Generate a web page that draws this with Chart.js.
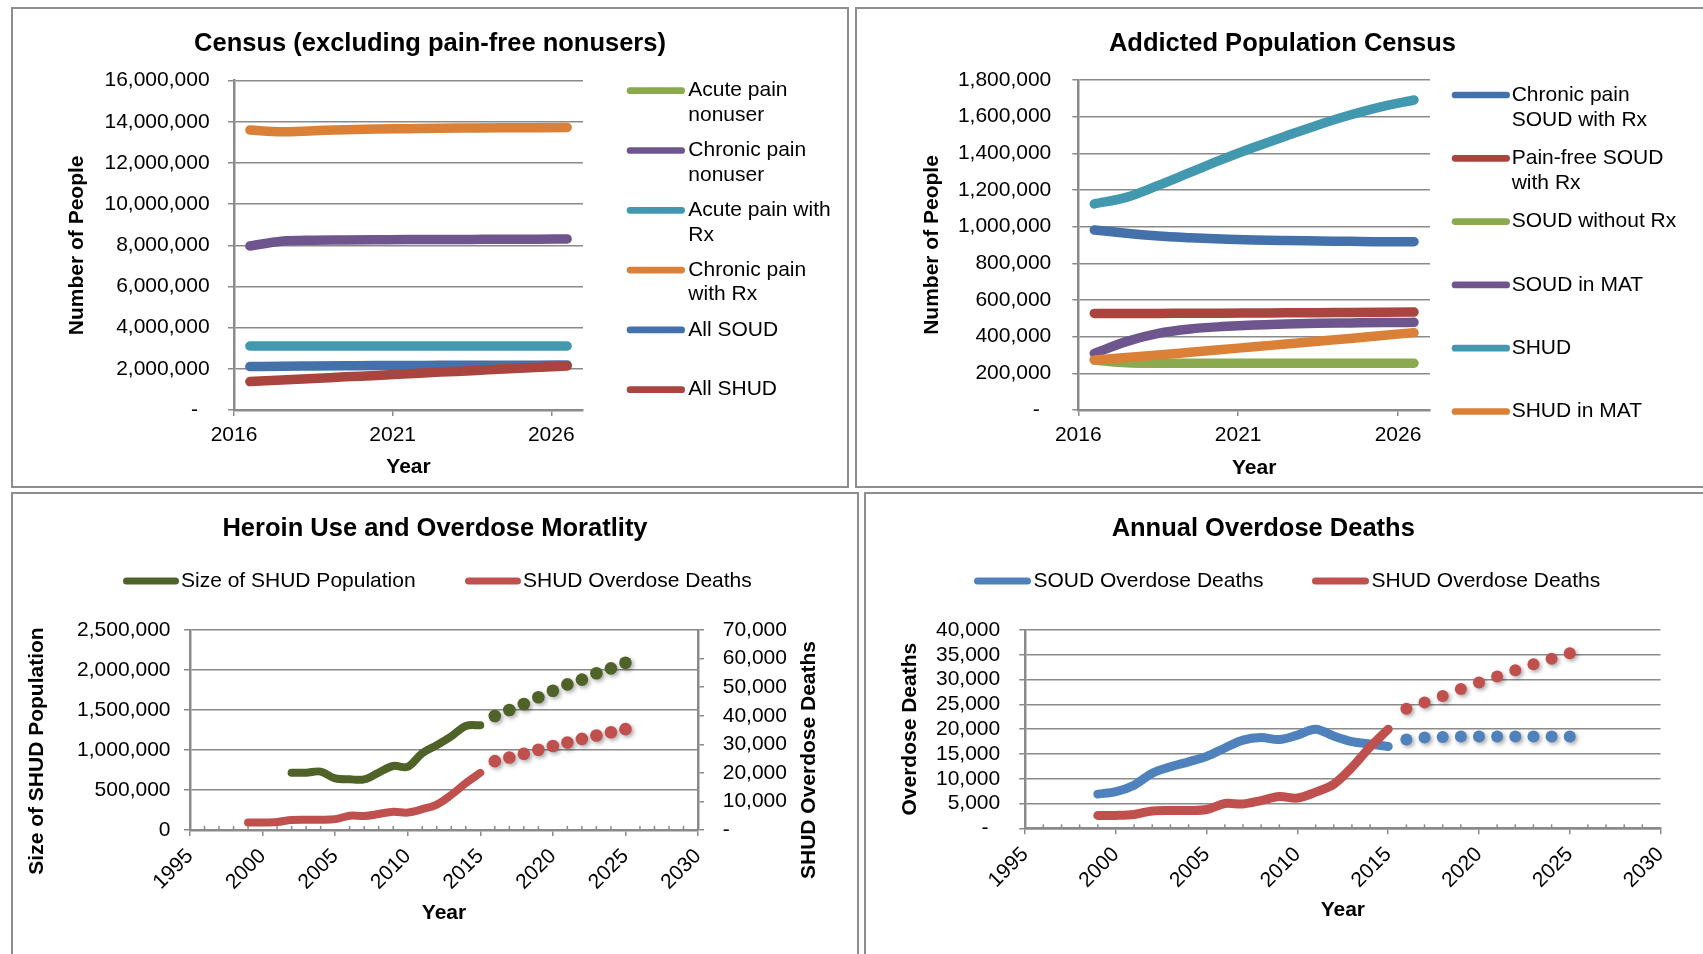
<!DOCTYPE html>
<html>
<head>
<meta charset="utf-8">
<title>Opioid model census and overdose deaths</title>
<script src="https://cdn.jsdelivr.net/npm/chart.js@4.4.1/dist/chart.umd.min.js"></script>
<style>
  html, body { margin: 0; padding: 0; background: #fff; }
  body { width: 1703px; height: 954px; overflow: hidden; position: relative; }
  .panel { position: absolute; border: 2px solid #8e8e8e; background: #fff; overflow: hidden; }
  .panel canvas { display: block; }
</style>
</head>
<body>
<div class="panel" style="left:11px; top:7px; width:834px; height:477px;"><canvas id="censusChart" width="834" height="477"></canvas></div>
<div class="panel" style="left:855px; top:7px; width:851px; height:477px;"><canvas id="addictedChart" width="851" height="477"></canvas></div>
<div class="panel" style="left:11px; top:492px; width:844px; height:466px;"><canvas id="heroinChart" width="844" height="466"></canvas></div>
<div class="panel" style="left:864px; top:492px; width:842px; height:466px;"><canvas id="deathsChart" width="842" height="466"></canvas></div>

<script>
// ---- Census (excluding pain-free nonusers) ----
const censusYears = [2016, 2017, 2018, 2019, 2020, 2021, 2022, 2023, 2024, 2025, 2026];
const censusTicks = [2016, 2021, 2026];
const censusNames = ['Acute pain\nnonuser', 'Chronic pain\nnonuser', 'Acute pain with\nRx', 'Chronic pain\nwith Rx', 'All SOUD', 'All SHUD'];
const acutePainNonuser = []; // above the 16,000,000 top of the axis, nothing of it shows
const chronicPainNonuser = [7970000, 8200000, 8250000, 8260000, 8270000, 8280000, 8280000, 8290000, 8300000, 8300000, 8310000];
const acutePainRx = [3110000, 3110000, 3110000, 3110000, 3110000, 3110000, 3110000, 3110000, 3110000, 3110000, 3110000];
const chronicPainRx = [13600000, 13520000, 13570000, 13620000, 13650000, 13670000, 13690000, 13700000, 13710000, 13720000, 13730000];
const allSoud = [2110000, 2130000, 2140000, 2150000, 2160000, 2160000, 2170000, 2170000, 2180000, 2180000, 2190000];
const allShud = [1380000, 1460000, 1530000, 1610000, 1680000, 1760000, 1840000, 1910000, 1990000, 2060000, 2140000];

// ---- Addicted Population Census ----
const addictedNames = ['Chronic pain\nSOUD with Rx', 'Pain-free SOUD\nwith Rx', 'SOUD without Rx', 'SOUD in MAT', 'SHUD', 'SHUD in MAT'];
const chronicSoudRx = [982000, 964000, 949000, 940000, 933000, 927000, 924000, 922000, 920000, 918000, 918000];
const painFreeSoudRx = [527000, 527000, 527000, 528000, 528000, 529000, 530000, 531000, 532000, 533000, 534000];
const soudNoRx = [273000, 258000, 255000, 255000, 255000, 255000, 255000, 255000, 255000, 255000, 255000];
const soudMat = [309000, 373000, 418000, 442000, 455000, 464000, 469000, 473000, 475000, 477000, 478000];
const shudPop = [1124000, 1160000, 1225000, 1296000, 1367000, 1433000, 1495000, 1555000, 1609000, 1655000, 1691000];
const shudMat = [273000, 286000, 300000, 315000, 330000, 345000, 360000, 375000, 390000, 406000, 422000];

// ---- Heroin use / overdose deaths (history as lines, projection as dots) ----
const longTicks = [1995, 2000, 2005, 2010, 2015, 2020, 2025, 2030];
const histYears = [1999, 2000, 2001, 2002, 2003, 2004, 2005, 2006, 2007, 2008, 2009, 2010, 2011, 2012, 2013, 2014, 2015];
const shudPopYears = [2002, 2003, 2004, 2005, 2006, 2007, 2008, 2009, 2010, 2011, 2012, 2013, 2014, 2015];
const projYears = [2016, 2017, 2018, 2019, 2020, 2021, 2022, 2023, 2024, 2025];
const shudSizeHist = [717000, 717000, 730000, 645000, 633000, 633000, 717000, 800000, 790000, 960000, 1060000, 1170000, 1300000, 1310000];
const shudSizeProj = [1425000, 1500000, 1575000, 1660000, 1740000, 1820000, 1880000, 1960000, 2020000, 2090000];
const shudDeathsHist = [2600, 2600, 2800, 3500, 3600, 3600, 3800, 5000, 4900, 5600, 6400, 6100, 7300, 8900, 12300, 16400, 20000];
const shudDeathsProj = [24100, 25400, 26700, 28100, 29400, 30600, 31900, 33100, 34200, 35300];
const soudDeathsHist = [6900, 7400, 8700, 11100, 12400, 13400, 14500, 16200, 17800, 18300, 17900, 18800, 20000, 18600, 17500, 17000, 16500];
const soudDeathsProj = [17900, 18300, 18400, 18500, 18500, 18500, 18500, 18500, 18500, 18500];

const FONT = "'Liberation Sans', Arial, Helvetica, sans-serif";
const GRID = '#8a8a8a';
Chart.defaults.font.family = FONT;
Chart.defaults.color = '#000';

function withCommas(v) {
    return String(v).replace(/\B(?=(\d{3})+(?!\d))/g, ',');
}
function tickLabel(zero) {
    return v => (v === 0 ? zero : withCommas(v));
}

// one solid smoothed line, shift puts yearly values mid-year
function lineSet(name, years, values, color, width, order, shift, axis, mode) {
    return {
        label: name.replace('\n', ' '),
        legendText: name,
        data: values.map((v, i) => ({ x: years[i] + shift, y: v })),
        borderColor: color,
        backgroundColor: color,
        borderWidth: width,
        borderCapStyle: 'round',
        borderJoinStyle: 'round',
        pointRadius: 0,
        tension: 0.35,
        cubicInterpolationMode: mode || 'default',
        order: order,
        yAxisID: axis || 'y'
    };
}

// projected values, markers only
function dotSet(name, years, values, color, radius, axis) {
    return {
        label: name + ' (projected)',
        data: values.map((v, i) => ({ x: years[i], y: v })),
        showLine: false,
        pointRadius: radius,
        pointBackgroundColor: color,
        pointBorderWidth: 0,
        borderColor: color,
        backgroundColor: color,
        shadow: true,
        order: 0,
        yAxisID: axis || 'y'
    };
}

function valueAxis(o) {
    return {
        position: o.position || 'left',
        min: 0,
        max: o.max,
        ticks: { stepSize: o.step, autoSkip: false, padding: o.pad, font: { size: 21 }, color: '#000', callback: tickLabel(o.zero) },
        grid: { color: GRID, lineWidth: 1.5, tickLength: 6, drawOnChartArea: o.grid !== false },
        border: { color: GRID, width: 2.5 },
        title: o.title
            ? { display: true, text: o.title, color: '#000', font: { size: 21, weight: 'bold' }, padding: { top: o.titlePad, bottom: 0 } }
            : { display: false },
        afterFit: s => { s.width = o.width; }
    };
}

function yearAxis(o) {
    return {
        type: 'linear',
        min: o.min,
        max: o.max,
        afterBuildTicks: s => { s.ticks = o.ticks.map(v => ({ value: v })); },
        ticks: { padding: o.pad, font: { size: 21 }, color: '#000', minRotation: o.rot, maxRotation: o.rot, autoSkip: false, callback: v => String(v) },
        grid: { drawOnChartArea: false, color: GRID, lineWidth: 1.5, tickLength: 6 },
        border: { color: GRID, width: 2.5 },
        title: { display: true, text: 'Year', color: '#000', font: { size: 21, weight: 'bold' }, padding: { top: 0, bottom: o.titlePad } },
        afterFit: s => { s.height = o.height; }
    };
}

// empty axis that only keeps room for the side legend
function spacer(width) {
    return {
        type: 'linear',
        position: 'right',
        grid: { display: false },
        border: { display: false },
        ticks: { display: false },
        afterFit: s => { s.width = width; }
    };
}

function chartTitle(text, top, bottom) {
    return { display: true, text: text, color: '#000', font: { size: 25.5, weight: 'bold' }, padding: { top: top, bottom: bottom } };
}

// legend with thick line swatches, text may wrap on '\n'
const lineLegend = {
    id: 'lineLegend',
    afterDraw(chart, args, opts) {
        if (!opts || !opts.len) return;
        const ctx = chart.ctx;
        const items = chart.data.datasets.filter(d => d.legendText);
        ctx.save();
        ctx.font = opts.fontSize + 'px ' + FONT;
        ctx.textBaseline = 'middle';
        ctx.textAlign = 'left';
        items.forEach((d, i) => {
            const x = opts.xs ? opts.xs[i] : opts.x;
            const y = opts.xs ? opts.y : opts.y + i * opts.step;
            const r = opts.thick / 2;
            ctx.strokeStyle = d.borderColor;
            ctx.lineWidth = opts.thick;
            ctx.lineCap = 'round';
            ctx.beginPath();
            ctx.moveTo(x + r, y);
            ctx.lineTo(x + opts.len - r, y);
            ctx.stroke();
            ctx.fillStyle = '#000';
            d.legendText.split('\n').forEach((t, j) => {
                ctx.fillText(t, x + opts.len + opts.gap, y + j * opts.lineGap);
            });
        });
        ctx.restore();
    }
};

// vertical axis titles reading bottom to top on either side
const sideTitles = {
    id: 'sideTitles',
    afterDraw(chart, args, opts) {
        if (!opts || !opts.items) return;
        const ctx = chart.ctx;
        ctx.save();
        ctx.font = 'bold 21px ' + FONT;
        ctx.fillStyle = '#000';
        ctx.textAlign = 'center';
        ctx.textBaseline = 'middle';
        opts.items.forEach(it => {
            ctx.save();
            ctx.translate(it.x, it.y);
            ctx.rotate(-Math.PI / 2);
            ctx.fillText(it.text, 0, 0);
            ctx.restore();
        });
        ctx.restore();
    }
};

// small yearly ticks on the inside of the x axis
const minorTicks = {
    id: 'minorTicks',
    afterDraw(chart, args, opts) {
        if (!opts || !opts.every) return;
        const xs = chart.scales.x;
        const ctx = chart.ctx;
        const bottom = chart.chartArea.bottom;
        ctx.save();
        ctx.strokeStyle = GRID;
        ctx.lineWidth = 1.5;
        for (let v = xs.min + opts.every; v < xs.max; v += opts.every) {
            if (v % 5 === 0) continue;
            const px = xs.getPixelForValue(v);
            ctx.beginPath();
            ctx.moveTo(px, bottom);
            ctx.lineTo(px, bottom - opts.len);
            ctx.stroke();
        }
        ctx.restore();
    }
};

// soft drop shadow under projection dots
const dotShadow = {
    id: 'dotShadow',
    beforeDatasetDraw(chart, args) {
        if (!chart.data.datasets[args.index].shadow) return;
        const ctx = chart.ctx;
        ctx.save();
        ctx.shadowColor = 'rgba(0,0,0,0.35)';
        ctx.shadowBlur = 4;
        ctx.shadowOffsetX = 2;
        ctx.shadowOffsetY = 2;
    },
    afterDatasetDraw(chart, args) {
        if (chart.data.datasets[args.index].shadow) chart.ctx.restore();
    }
};

Chart.register(lineLegend, sideTitles, minorTicks, dotShadow);

const GREEN = '#8BA94F', PURPLE = '#6F558E', TEAL = '#4198AF', ORANGE = '#DA8137', BLUE = '#4471A9', RED = '#A9443F';

const baseOptions = { responsive: false, animation: false, events: [], layout: { padding: 0 } };

// Census (excluding pain-free nonusers)
const censusSeries = [acutePainNonuser, chronicPainNonuser, acutePainRx, chronicPainRx, allSoud, allShud];
const censusColors = [GREEN, PURPLE, TEAL, ORANGE, BLUE, RED];
new Chart(document.getElementById('censusChart'), {
    type: 'line',
    data: {
        datasets: censusSeries.map((vals, i) =>
            lineSet(censusNames[i], censusYears, vals, censusColors[i], 9.5, censusSeries.length - i, 0.5, 'y', 'monotone'))
    },
    options: {
        ...baseOptions,
        plugins: {
            legend: { display: false },
            tooltip: { enabled: false },
            title: chartTitle('Census (excluding pain-free nonusers)', 19.9, 21.2),
            lineLegend: { x: 613.7, y: 81.7, step: 59.8, len: 58.3, gap: 3.3, lineGap: 24.5, thick: 6.7, fontSize: 21 }
        },
        scales: {
            x: yearAxis({ min: 2016, max: 2027, ticks: censusTicks, pad: 7, rot: 0, titlePad: 6.4, height: 76 }),
            y: valueAxis({ max: 16000000, step: 2000000, pad: 18.4, zero: '-  ', width: 221, title: 'Number of People', titlePad: 51.4 }),
            legendSpace: spacer(264)
        }
    }
});

// Addicted Population Census
const addictedSeries = [chronicSoudRx, painFreeSoudRx, soudNoRx, soudMat, shudPop, shudMat];
const addictedColors = [BLUE, RED, GREEN, PURPLE, TEAL, ORANGE];
new Chart(document.getElementById('addictedChart'), {
    type: 'line',
    data: {
        datasets: addictedSeries.map((vals, i) =>
            lineSet(addictedNames[i], censusYears, vals, addictedColors[i], 9.5, addictedSeries.length - i, 0.5, 'y', 'monotone'))
    },
    options: {
        ...baseOptions,
        plugins: {
            legend: { display: false },
            tooltip: { enabled: false },
            title: chartTitle('Addicted Population Census', 19.9, 20.5),
            lineLegend: { x: 594.7, y: 86, step: 63.3, len: 58.3, gap: 1.7, lineGap: 25, thick: 6.7, fontSize: 21 }
        },
        scales: {
            x: yearAxis({ min: 2016, max: 2027, ticks: censusTicks, pad: 7, rot: 0, titlePad: 5.4, height: 76 }),
            y: valueAxis({ max: 1800000, step: 200000, pad: 21, zero: '-  ', width: 221.3, title: 'Number of People', titlePad: 62.4 }),
            legendSpace: spacer(278)
        }
    }
});

// Heroin Use and Overdose Moratlity
new Chart(document.getElementById('heroinChart'), {
    type: 'line',
    data: {
        datasets: [
            lineSet('Size of SHUD Population', shudPopYears, shudSizeHist, '#4F6228', 8, 2, 0, 'y'),
            lineSet('SHUD Overdose Deaths', histYears, shudDeathsHist, '#C0504D', 8, 1, 0, 'y2'),
            dotSet('Size of SHUD Population', projYears, shudSizeProj, '#4F6228', 6.3, 'y'),
            dotSet('SHUD Overdose Deaths', projYears, shudDeathsProj, '#C0504D', 6.3, 'y2')
        ]
    },
    options: {
        ...baseOptions,
        plugins: {
            legend: { display: false },
            tooltip: { enabled: false },
            title: chartTitle('Heroin Use and Overdose Moratlity', 19.3, 86.1),
            lineLegend: { xs: [110, 452], y: 87, len: 56, gap: 2, lineGap: 25, thick: 7, fontSize: 21 },
            sideTitles: { items: [
                { text: 'Size of SHUD Population', x: 24.4, y: 257 },
                { text: 'SHUD Overdose Deaths', x: 796, y: 266 }
            ] },
            minorTicks: { every: 1, len: 4 }
        },
        scales: {
            x: yearAxis({ min: 1995, max: 2030, ticks: longTicks, pad: 8, rot: 45, titlePad: 34.4, height: 130 }),
            y: valueAxis({ max: 2500000, step: 500000, pad: 13.5, zero: '0', width: 177 }),
            y2: valueAxis({ position: 'right', max: 70000, step: 10000, pad: 18.7, zero: '-  ', width: 159, grid: false })
        }
    }
});

// Annual Overdose Deaths
new Chart(document.getElementById('deathsChart'), {
    type: 'line',
    data: {
        datasets: [
            lineSet('SOUD Overdose Deaths', histYears, soudDeathsHist, '#4F81BD', 9, 2, 0),
            lineSet('SHUD Overdose Deaths', histYears, shudDeathsHist, '#C0504D', 9, 1, 0),
            dotSet('SOUD Overdose Deaths', projYears, soudDeathsProj, '#4F81BD', 6),
            dotSet('SHUD Overdose Deaths', projYears, shudDeathsProj, '#C0504D', 6)
        ]
    },
    options: {
        ...baseOptions,
        layout: { padding: { right: 47.5 } },
        plugins: {
            legend: { display: false },
            tooltip: { enabled: false },
            title: chartTitle('Annual Overdose Deaths', 19.3, 86.1),
            lineLegend: { xs: [108, 446], y: 87, len: 57, gap: 2.5, lineGap: 25, thick: 7, fontSize: 21 },
            minorTicks: { every: 1, len: 4 }
        },
        scales: {
            x: yearAxis({ min: 1995, max: 2030, ticks: longTicks, pad: 8, rot: 45, titlePad: 37.4, height: 131.7 }),
            y: valueAxis({ max: 40000, step: 5000, pad: 19, zero: '-  ', width: 159.2, title: 'Overdose Deaths', titlePad: 31.4 })
        }
    }
});
</script>
</body>
</html>
